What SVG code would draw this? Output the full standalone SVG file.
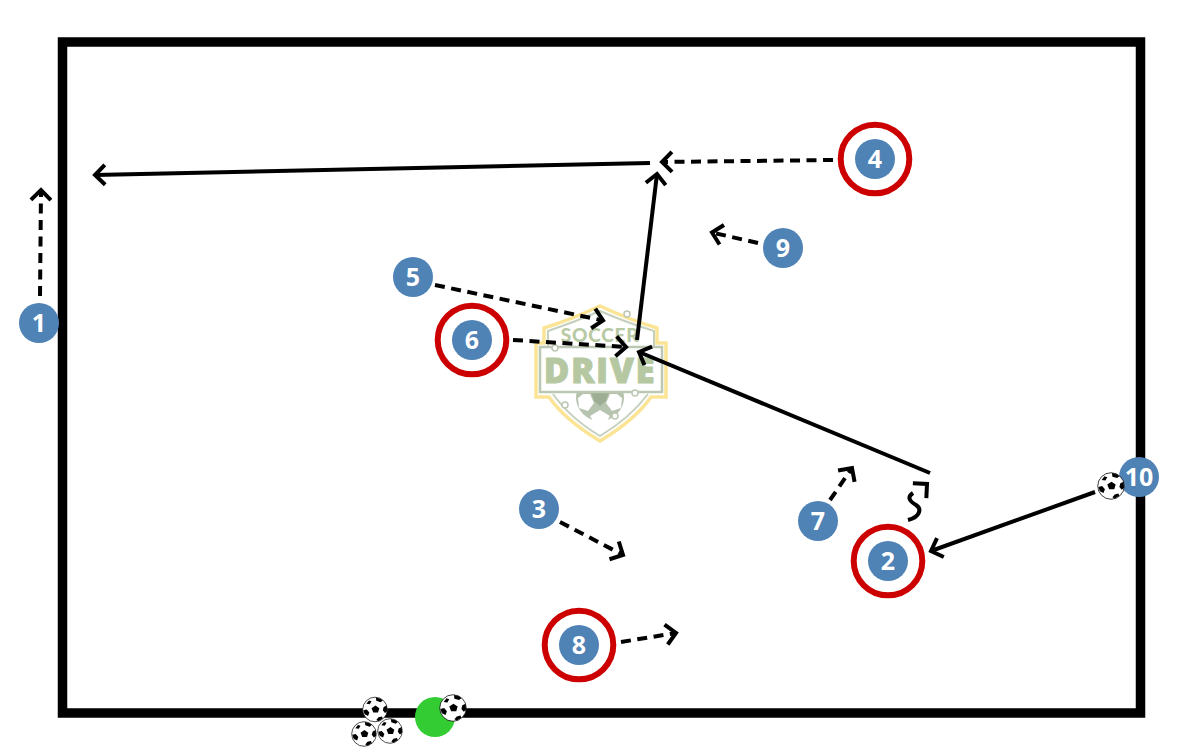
<svg xmlns="http://www.w3.org/2000/svg" xmlns:xlink="http://www.w3.org/1999/xlink" width="1200" height="750" viewBox="0 0 1200 750">
<style>
.c{fill:none;stroke:#000;stroke-width:4}
.d{stroke-dasharray:10 6.5}
.h{marker-end:url(#chev)}
.b{fill:#4f82b5}
.r{fill:none;stroke:#cc0000;stroke-width:6}
.n{font-family:"Noto Sans","Liberation Sans",sans-serif;font-weight:700;font-size:25px;fill:#fff;text-anchor:middle}
.t{fill:#fff;stroke:#b9c5b0;stroke-width:1.5}
</style>
<defs>
<marker id="chev" markerUnits="userSpaceOnUse" markerWidth="30" markerHeight="30" refX="15" refY="15" orient="auto" overflow="visible">
<path d="M5,5 L15,15 L5,25" fill="none" stroke="#000" stroke-width="4"/>
</marker>
<symbol id="ball" viewBox="-15 -15 30 30" overflow="visible">
<circle r="14.2" fill="#fff" stroke="#000" stroke-width="0.8"/>
<path d="M0.500,-4.500L5,-1.500 3.500,3.500H-2L-4,-1.500Z M1,-13.800L6.500,-12.500 9,-10.500 6.500,-8.500 1.500,-10Z M10,-3L13.500,-4.500 14,2 11.500,4 9,1Z M4,9L8,8 9,10.500 4,13.500 1.500,12Z M-9.500,0L-6.500,3.500 -8,7.500 -12,5.500 -13.500,1Z M-7,-10.500L-4,-9.500 -6,-6 -10,-6.500Z" fill="#000"/>
</symbol>
</defs>
<rect width="1200" height="750" fill="#fff"/>
<g id="logo" opacity="0.95">
<path d="M600,306 Q570,320 544,328 V343 H536 V397 H549 Q565,420 600,441 Q635,420 651,397 H666 V343 H657 V328 Q630,320 600,306Z" fill="#fff" stroke="#fbe38e" stroke-width="3.5"/>
<path d="M548,346 V331 Q575,322 600,311 Q625,322 654,331 V346 M553,394 Q570,418 600,436 Q630,418 648,394" fill="none" stroke="#c3cebb" stroke-width="2"/>
<circle cx="600" cy="397" r="24" fill="#b3c0aa"/>
<path d="M583,394H590L594,403 588,411 579,408 578,398Z M617,394H610L606,403 612,411 621,408 622,398Z M590,416L600,410 610,416 607,421 593,421Z" fill="#fff"/>
<path d="M591,392H609L606,401 600,406 594,401Z" fill="#98a98e"/>
<rect x="540" y="347" width="122" height="45" fill="#fff" stroke="#b9c5b0" stroke-width="2.5"/>
<circle class="t" cx="555" cy="348" r="3"/>
<circle class="t" cx="627" cy="314" r="3"/>
<circle class="t" cx="635" cy="393" r="3"/>
<circle class="t" cx="565" cy="405" r="3"/>
<circle class="t" cx="615" cy="416" r="3"/>
<text x="600" y="342" text-anchor="middle" font-family="Lato,'Liberation Sans',sans-serif" font-weight="900" font-size="19" letter-spacing="0.8" fill="#b5c8a0">SOCCER</text>
<text x="600" y="383" text-anchor="middle" font-family="'Open Sans','Liberation Sans',sans-serif" font-weight="800" font-size="35" letter-spacing="1.500" fill="#b2c69c" stroke="#b2c69c" stroke-width="0.8">DRIVE</text>
</g>
<rect id="field" x="62.500" y="42" width="1078" height="671" fill="none" stroke="#000" stroke-width="9.500"/>
<circle id="cone" cx="435" cy="717" r="20" fill="#33cc33"/>
<g id="balls">
<use xlink:href="#ball" href="#ball" x="362" y="696.500" width="26" height="26"/>
<use xlink:href="#ball" href="#ball" x="351" y="721" width="26" height="26"/>
<use xlink:href="#ball" href="#ball" x="377" y="718" width="26" height="26"/>
<use xlink:href="#ball" href="#ball" x="439" y="694" width="28" height="28"/>
</g>
<g id="connectors">
<path class="c d h" d="M40,296 L41,190"/>
<path class="c h" d="M650,163 L95,175"/>
<path class="c d h" d="M833,160 L662,162"/>
<path class="c h" d="M637,340 L657,174"/>
<path class="c d h" d="M435,285 L603,320.500"/>
<path class="c d h" d="M513,340 L626,347"/>
<path class="c h" d="M930,473 L639,352"/>
<path class="c d h" d="M560,522 L623,555"/>
<path class="c d h" d="M830,500 L852,468"/>
<path class="c" d="M908,520 C920,517 922,509 916,505 C909,501 907,497 913,493"/>
<path class="h" fill="none" d="M916,494 L927,484"/>
<path class="c h" d="M1095,492 L931,551"/>
<path class="c d h" d="M621,642 L676,633"/>
<path class="c d h" d="M758,243 L712,232.500"/>
</g>
<g id="node1"><circle class="b" cx="39" cy="323" r="20"/><text class="n" x="39" y="332">1</text></g>
<g id="node2"><circle class="r" cx="888" cy="561" r="34.300"/><circle class="b" cx="888" cy="561" r="20"/><text class="n" x="888" y="570">2</text></g>
<g id="node3"><circle class="b" cx="539" cy="509" r="20"/><text class="n" x="539" y="518">3</text></g>
<g id="node4"><circle class="r" cx="875" cy="159" r="34.300"/><circle class="b" cx="875" cy="159" r="20"/><text class="n" x="875" y="168">4</text></g>
<g id="node5"><circle class="b" cx="413" cy="277" r="20"/><text class="n" x="413" y="286">5</text></g>
<g id="node6"><circle class="r" cx="472" cy="340" r="34.300"/><circle class="b" cx="472" cy="340" r="20"/><text class="n" x="472" y="349">6</text></g>
<g id="node7"><circle class="b" cx="818" cy="521" r="20"/><text class="n" x="818" y="530">7</text></g>
<g id="node8"><circle class="r" cx="579" cy="645" r="34.300"/><circle class="b" cx="579" cy="645" r="20"/><text class="n" x="579" y="654">8</text></g>
<g id="node9"><circle class="b" cx="783" cy="248" r="20"/><text class="n" x="783" y="257">9</text></g>
<g id="node10"><circle class="b" cx="1139" cy="477" r="20"/><text class="n" x="1139" y="486">10</text><use xlink:href="#ball" href="#ball" x="1097" y="472" width="28" height="28"/></g>
</svg>
